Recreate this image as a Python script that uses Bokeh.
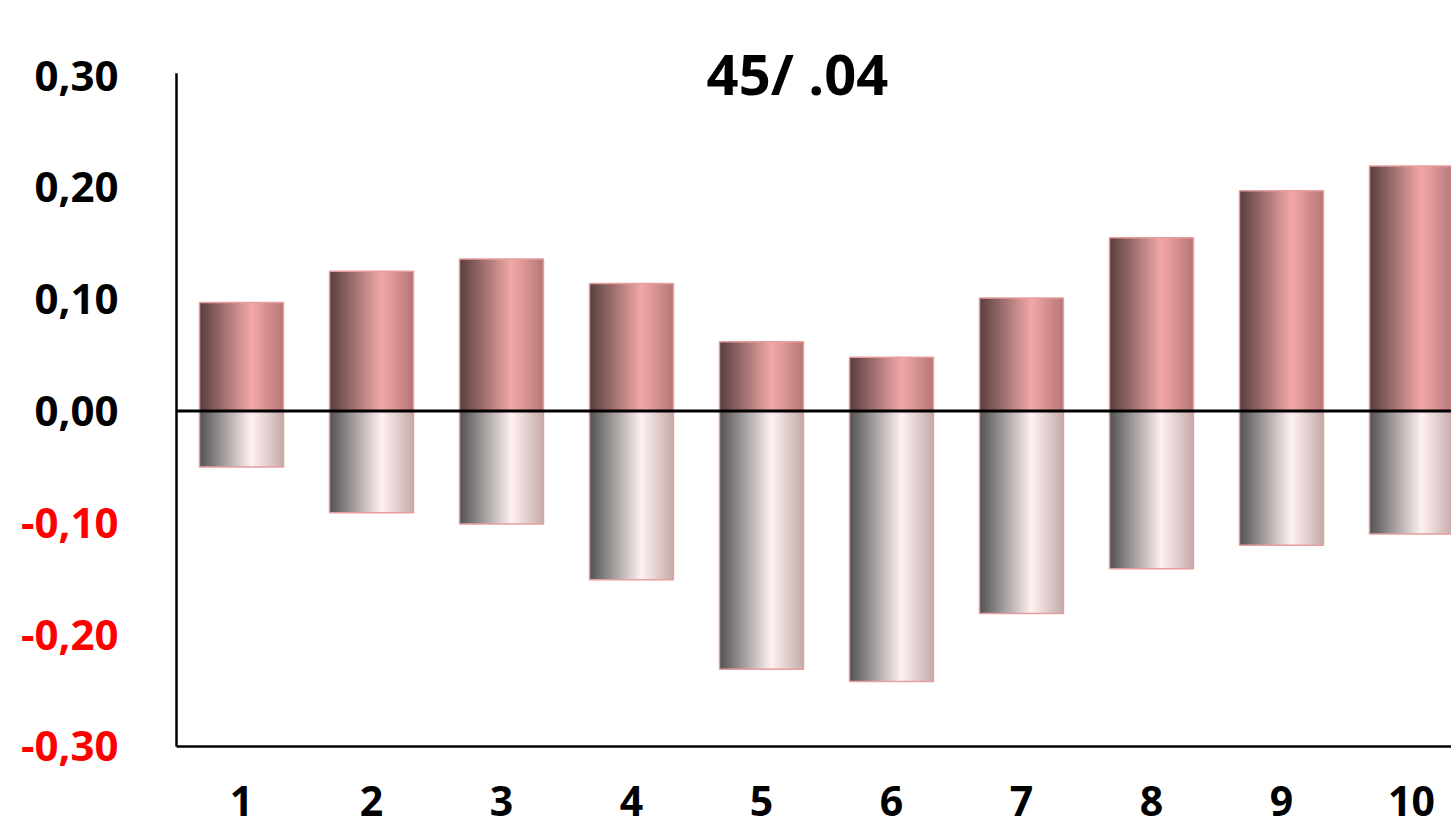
from bokeh.plotting import figure
from bokeh.models import ColumnDataSource, LabelSet, Label, Range1d
from bokeh.core.properties import value
from bokeh.embed import file_html
from bokeh.resources import INLINE

# Data
categories = [1, 2, 3, 4, 5, 6, 7, 8, 9, 10]
upper_values = [0.097, 0.125, 0.136, 0.114, 0.062, 0.048, 0.101, 0.155, 0.197, 0.219]
lower_values = [-0.050, -0.091, -0.101, -0.151, -0.231, -0.242, -0.181, -0.141, -0.120, -0.110]
y_ticks = [0.30, 0.20, 0.10, 0.00, -0.10, -0.20, -0.30]
y_tick_labels = ["0,30", "0,20", "0,10", "0,00", "-0,10", "-0,20", "-0,30"]
x_tick_labels = ["1", "2", "3", "4", "5", "6", "7", "8", "9", "10"]
title_text = "45/ .04"

FONT = "Open Sans"
BAR_W = 0.646
N_STRIPS = 48

# value-axis limits and the x position of the value axis
Y_MIN, Y_MAX = -0.30, 0.30
X_AXIS_POS = 0.5
X_END = 10.308

# gradient stops across each bar (fraction of width, rgb)
upper_stops = [(0.0, (88, 62, 62)), (0.62, (243, 168, 168)), (1.0, (182, 118, 118))]
lower_stops = [(0.0, (82, 82, 82)), (0.62, (255, 241, 241)), (1.0, (196, 170, 170))]


def blend(stops, t):
    for (t0, c0), (t1, c1) in zip(stops[:-1], stops[1:]):
        if t0 <= t <= t1:
            f = (t - t0) / (t1 - t0)
            r, g, b = (int(round(a + (bb - a) * f)) for a, bb in zip(c0, c1))
            return "#%02x%02x%02x" % (r, g, b)
    return "#%02x%02x%02x" % stops[-1][1]


def strips(values, stops):
    # each strip runs from its own left edge to the bar's right edge;
    # later strips paint over earlier ones, so there are no seams
    left, right, top, bottom, color = [], [], [], [], []
    for c, v in zip(categories, values):
        x0 = c - BAR_W / 2
        for i in range(N_STRIPS):
            t = (i + 0.5) / N_STRIPS
            left.append(x0 + BAR_W * i / N_STRIPS)
            right.append(x0 + BAR_W)
            top.append(max(v, 0.0))
            bottom.append(min(v, 0.0))
            color.append(blend(stops, t))
    return ColumnDataSource(dict(left=left, right=right, top=top, bottom=bottom, color=color))


# the frame fills the whole canvas; the margins are part of the data space
px_x = 130.0    # pixels per category
px_y = 1118.0   # pixels per unit of value
p = figure(width=1451, height=830, output_backend="svg", toolbar_location=None,
           x_range=Range1d(X_AXIS_POS - 176 / px_x, X_END),
           y_range=Range1d(Y_MIN - 84 / px_y, Y_MAX + 75 / px_y),
           min_border=0)
p.title.visible = False
p.axis.visible = False
p.outline_line_color = None
p.xgrid.visible = False
p.ygrid.visible = False
p.background_fill_color = "white"
p.border_fill_color = "white"

# gradient-filled bars
p.quad(left="left", right="right", top="top", bottom="bottom", color="color",
       line_color=None, source=strips(upper_values, upper_stops))
p.quad(left="left", right="right", top="top", bottom="bottom", color="color",
       line_color=None, source=strips(lower_values, lower_stops))

# bar outlines
p.vbar(x=categories, top=upper_values, bottom=0, width=BAR_W,
       fill_color=None, line_color="#e79e9e", line_width=1.5)
p.vbar(x=categories, top=0, bottom=lower_values, width=BAR_W,
       fill_color=None, line_color="#e79e9e", line_width=1.5)

# axis lines and the zero line
p.segment(x0=[X_AXIS_POS], y0=[Y_MIN], x1=[X_AXIS_POS], y1=[Y_MAX + 0.002],
          line_color="black", line_width=2.5)
p.segment(x0=[X_AXIS_POS], y0=[Y_MIN], x1=[X_END], y1=[Y_MIN],
          line_color="black", line_width=2.5)
p.segment(x0=[X_AXIS_POS], y0=[0.0], x1=[X_END], y1=[0.0],
          line_color="black", line_width=3)

# value-axis tick labels: negatives in red
y_colors = ["black" if v >= 0 else "#ff0000" for v in y_ticks]
ylab = ColumnDataSource(dict(x=[X_AXIS_POS - 58 / px_x] * len(y_ticks), y=y_ticks,
                             text=y_tick_labels, color=y_colors))
p.add_layout(LabelSet(x="x", y="y", text="text", source=ylab, text_color="color",
                      text_font=value(FONT), text_font_style="bold", text_font_size="42px",
                      text_align="right", text_baseline="middle"))

# category labels
xlab = ColumnDataSource(dict(x=categories, y=[Y_MIN - 55 / px_y] * len(categories),
                             text=x_tick_labels))
p.add_layout(LabelSet(x="x", y="y", text="text", source=xlab, text_color="black",
                      text_font=value(FONT), text_font_style="bold", text_font_size="41px",
                      text_align="center", text_baseline="middle"))

p.add_layout(Label(x=5.277, y=Y_MAX + 3 / px_y, text=title_text, text_color="black",
                   text_font=FONT, text_font_style="bold", text_font_size="56px",
                   text_align="center", text_baseline="middle"))

open("out.html", "w").write(file_html(p, INLINE))
